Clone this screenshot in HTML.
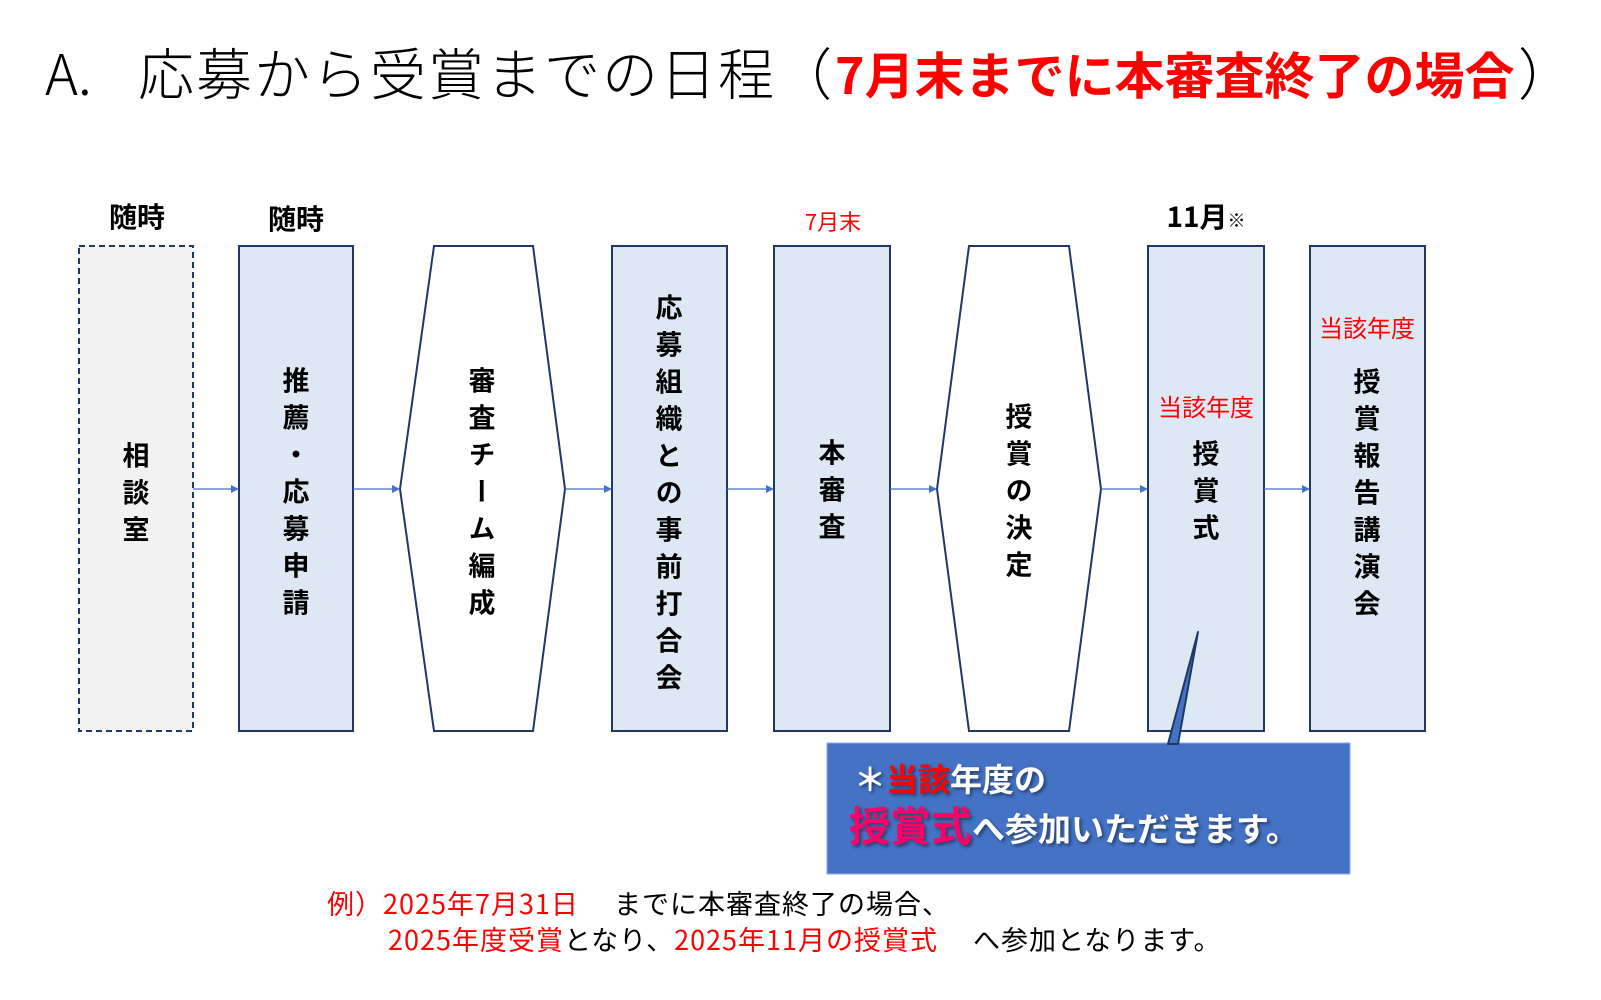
<!DOCTYPE html>
<html><head><meta charset="utf-8"><style>
html,body{margin:0;padding:0;background:#fff;}
body{width:1601px;height:1000px;position:relative;overflow:hidden;font-family:"Liberation Sans","Noto Sans CJK JP",sans-serif;}
.a{position:absolute;white-space:nowrap;}
.v{position:absolute;writing-mode:vertical-rl;transform:translate(-50%,-50%);font-size:27px;font-weight:bold;letter-spacing:10px;line-height:1;color:#000;font-family:"Noto Sans CJK JP",sans-serif;}
.c{transform:translate(-50%,-50%);line-height:1;}
.r{color:#ff0000;}
</style></head><body>
<svg width="1601" height="1000" style="position:absolute;left:0;top:0">
<defs><marker id="ar" markerWidth="8" markerHeight="8" refX="7" refY="4" orient="auto" markerUnits="userSpaceOnUse"><path d="M0,0 L8,4 L0,8 z" fill="#4472c4"/></marker></defs>
<rect x="79" y="246" width="114" height="485" fill="#f2f2f2" stroke="#1f3864" stroke-width="2" stroke-dasharray="6,4"/>
<rect x="239" y="246" width="114" height="485" fill="#dde8f4" stroke="#1f3864" stroke-width="2"/>
<polygon points="434,246 533,246 565,489 533,731 434,731 400,489" fill="#fff" stroke="#1f3864" stroke-width="2"/>
<rect x="612" y="246" width="115" height="485" fill="#dde8f4" stroke="#1f3864" stroke-width="2"/>
<rect x="774" y="246" width="116" height="485" fill="#dde8f4" stroke="#1f3864" stroke-width="2"/>
<polygon points="969,246 1069,246 1101,489 1069,731 969,731 937,489" fill="#fff" stroke="#1f3864" stroke-width="2"/>
<rect x="1148" y="246" width="116" height="485" fill="#dde8f4" stroke="#1f3864" stroke-width="2"/>
<rect x="1310" y="246" width="115" height="485" fill="#dde8f4" stroke="#1f3864" stroke-width="2"/>
<g stroke="#4472c4" stroke-width="1.3" marker-end="url(#ar)">
<line x1="193" y1="489" x2="238" y2="489"/>
<line x1="353" y1="489" x2="399" y2="489"/>
<line x1="565" y1="489" x2="611" y2="489"/>
<line x1="727" y1="489" x2="773" y2="489"/>
<line x1="890" y1="489" x2="936" y2="489"/>
<line x1="1101" y1="489" x2="1147" y2="489"/>
<line x1="1264" y1="489" x2="1309" y2="489"/>
</g>
<rect x="827" y="743" width="523" height="131" fill="#4472c4" stroke="#8eaadb" stroke-width="1"/>
<polygon points="1198,632 1168,744 1178,744" fill="#4472c4" stroke="#1f3864" stroke-width="2" stroke-linejoin="round"/>
</svg>

<div class="a" style="left:45px;top:40px;font-size:56px;line-height:64px;font-family:'Noto Sans CJK JP',sans-serif;font-weight:300;">A.</div>
<div class="a" style="left:138px;top:40px;font-size:56px;line-height:64px;letter-spacing:2px;font-family:'Noto Sans CJK JP',sans-serif;font-weight:300;">応募から受賞までの日程（</div>
<div class="a r" style="left:835px;top:43px;font-size:50px;line-height:60px;font-weight:bold;font-family:'Noto Sans CJK JP',sans-serif;">7月末までに本審査終了の場合</div>
<div class="a" style="left:1518px;top:40px;font-size:56px;line-height:64px;font-family:'Noto Sans CJK JP',sans-serif;font-weight:300;">）</div>

<div class="a c" style="left:137px;top:216px;font-size:28px;font-weight:bold;font-family:'Noto Sans CJK JP',sans-serif;">随時</div>
<div class="a c" style="left:296px;top:218px;font-size:28px;font-weight:bold;font-family:'Noto Sans CJK JP',sans-serif;">随時</div>
<div class="a c r" style="left:833px;top:221px;font-size:22px;font-family:'Noto Sans CJK JP',sans-serif;">7月末</div>
<div class="a c" style="left:1206px;top:216px;font-size:28px;font-weight:bold;font-family:'Noto Sans CJK JP',sans-serif;">11月<span style="font-size:18px;">※</span></div>

<div class="v" style="left:136px;top:497px;">相談室</div>
<div class="v" style="left:296px;top:496px;">推薦・応募申請</div>
<div class="v" style="left:482px;top:496px;">審査チーム編成</div>
<div class="v" style="left:669px;top:497px;">応募組織との事前打合会</div>
<div class="v" style="left:832px;top:494px;">本審査</div>
<div class="v" style="left:1019px;top:495px;">授賞の決定</div>
<div class="a c r" style="left:1206px;top:406px;font-size:24px;font-family:'Noto Sans CJK JP',sans-serif;">当該年度</div>
<div class="v" style="left:1206px;top:495px;">授賞式</div>
<div class="a c r" style="left:1367px;top:327px;font-size:24px;font-family:'Noto Sans CJK JP',sans-serif;">当該年度</div>
<div class="v" style="left:1367px;top:497px;">授賞報告講演会</div>

<div class="a" style="left:854px;top:759px;font-size:32px;line-height:38px;font-weight:bold;color:#fff;font-family:'Noto Sans CJK JP',sans-serif;text-shadow:2px 2px 3px rgba(0,0,0,.45);">＊<span style="color:#ff0000">当該</span>年度の</div>
<div class="a" style="left:849px;top:799px;font-size:33px;line-height:48px;font-weight:bold;color:#fff;font-family:'Noto Sans CJK JP',sans-serif;text-shadow:2px 2px 3px rgba(0,0,0,.45);"><span style="color:#ff0066;font-size:41px;">授賞式</span>へ参加いただきます。</div>

<div class="a" style="left:327px;top:887px;font-size:27px;line-height:32px;letter-spacing:1px;font-family:'Noto Sans CJK JP',sans-serif;"><span class="r">例）2025年7月31日</span>　  までに本審査終了の場合、</div>
<div class="a" style="left:388px;top:923px;font-size:27px;line-height:32px;letter-spacing:1px;font-family:'Noto Sans CJK JP',sans-serif;"><span class="r">2025年度受賞</span>となり、<span class="r">2025年11月の授賞式</span>　  へ参加となります。</div>
</body></html>
